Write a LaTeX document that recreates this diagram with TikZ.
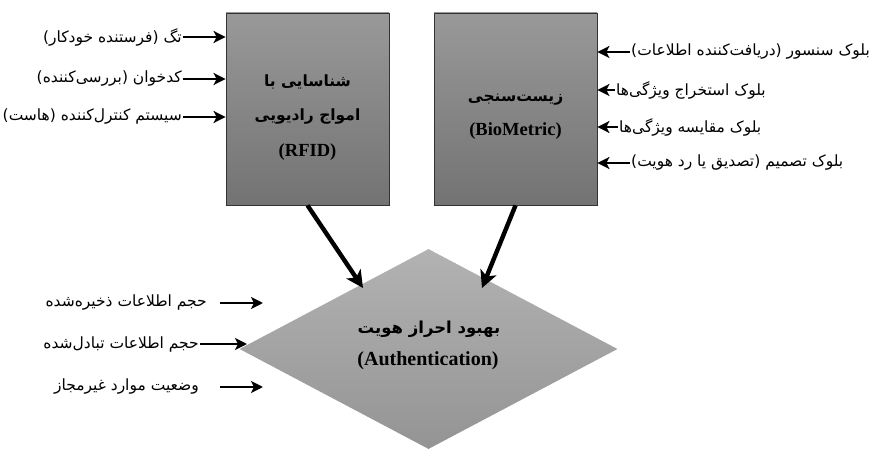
\documentclass[tikz,border=0pt]{standalone}
\usepackage{fontspec}
\usetikzlibrary{arrows.meta,shapes.geometric}
\TeXXeTstate=1
\setmainfont{Liberation Serif}
\newfontfamily\fa[Script=Arabic]{DejaVu Sans}
\newcommand{\fatext}[1]{{\fa\beginR #1\endR}}
\begin{document}
\begin{tikzpicture}[x=1pt,y=-1pt,
  block/.style={draw=black!80, line width=0.8pt, minimum width=163pt, minimum height=192pt,
    top color=black!40, bottom color=black!55, inner sep=0pt},
  goal/.style={diamond, minimum width=378pt, minimum height=200pt, inner sep=0pt,
    top color=black!30, bottom color=black!42},
  lbl/.style={inner sep=1pt, font=\fontsize{15.5}{17}\selectfont},
  thin arrow/.style={line width=2.6pt, -{Stealth[length=12pt,width=12pt,inset=3pt]}},
  thick arrow/.style={line width=4.4pt, -{Stealth[length=17pt,width=17pt,inset=4.5pt]}},
  btitle/.style={font=\fontsize{15.5}{17}\selectfont\bfseries},
  ltitle/.style={font=\fontsize{18.5}{20}\selectfont\bfseries}]
\useasboundingbox (0,0) rectangle (873,449);

% two source blocks
\node[block] (rfid) at (307.5,109) {};
\node[block] (bio) at (515.5,109) {};
\node[btitle] (rfidt1) at (307.5,82) {\fatext{شناسایی با}};
\node[btitle] (rfidt2) at (307.5,117) {\fatext{امواج رادیویی}};
\node[ltitle] (rfidt3) at (307.5,152) {(RFID)};
\node[btitle] (biot1) at (515.5,100) {\fatext{زیست‌سنجی}};
\node[ltitle] (biot2) at (515.5,131) {(BioMetric)};

% goal diamond
\node[goal] (auth) at (428.5,349) {};
\node[font=\fontsize{16.5}{18}\selectfont\bfseries] (autht1) at (429,329) {\fatext{بهبود احراز هویت}};
\node[font=\fontsize{20}{22}\selectfont\bfseries] (autht2) at (428,361) {(Authentication)};

% RFID components
\node[lbl, anchor=east] (r1) at (183,37) {\fatext{تگ (فرستنده خودکار)}};
\node[lbl, anchor=east] (r2) at (183,79) {\fatext{کدخوان (بررسی‌کننده)}};
\node[lbl, anchor=east] (r3) at (183,117) {\fatext{سیستم کنترل‌کننده (هاست)}};
\draw[thin arrow] (r1.east) -- (r1.east -| rfid.west);
\draw[thin arrow] (r2.east) -- (r2.east -| rfid.west);
\draw[thin arrow] (r3.east) -- (r3.east -| rfid.west);

% biometric components
\node[lbl, anchor=west] (b1) at (630,52) {\fatext{بلوک سنسور (دریافت‌کننده اطلاعات)}};
\node[lbl, anchor=west] (b2) at (615,90) {\fatext{بلوک استخراج ویژگی‌ها}};
\node[lbl, anchor=west] (b3) at (618,127) {\fatext{بلوک مقایسه ویژگی‌ها}};
\node[lbl, anchor=west] (b4) at (630,163) {\fatext{بلوک تصمیم (تصدیق یا رد هویت)}};
\draw[thin arrow] (b1.west) -- (b1.west -| bio.east);
\draw[thin arrow] (b2.west) -- (b2.west -| bio.east);
\draw[thin arrow] (b3.west) -- (b3.west -| bio.east);
\draw[thin arrow] (b4.west) -- (b4.west -| bio.east);

% evaluation criteria
\node[lbl, anchor=east] (c1) at (208,303) {\fatext{حجم اطلاعات ذخیره‌شده}};
\node[lbl, anchor=east] (c2) at (200,344) {\fatext{حجم اطلاعات تبادل‌شده}};
\node[lbl, anchor=east] (c3) at (200,387) {\fatext{وضعیت موارد غیرمجاز}};
\coordinate (c1end) at (263,303);
\coordinate (c2end) at (247,344);
\coordinate (c3end) at (263,387);
\draw[thin arrow, shorten <=12pt] (c1.east) -- (c1end);
\draw[thin arrow] (c2.east) -- (c2end);
\draw[thin arrow, shorten <=20pt] (c3.east) -- (c3end);

% both blocks feed the goal
\coordinate (rfidin) at (363,288);
\coordinate (bioin) at (482,288);
\draw[thick arrow] (rfid.south) -- (rfidin);
\draw[thick arrow] (bio.south) -- (bioin);
\end{tikzpicture}
\end{document}
